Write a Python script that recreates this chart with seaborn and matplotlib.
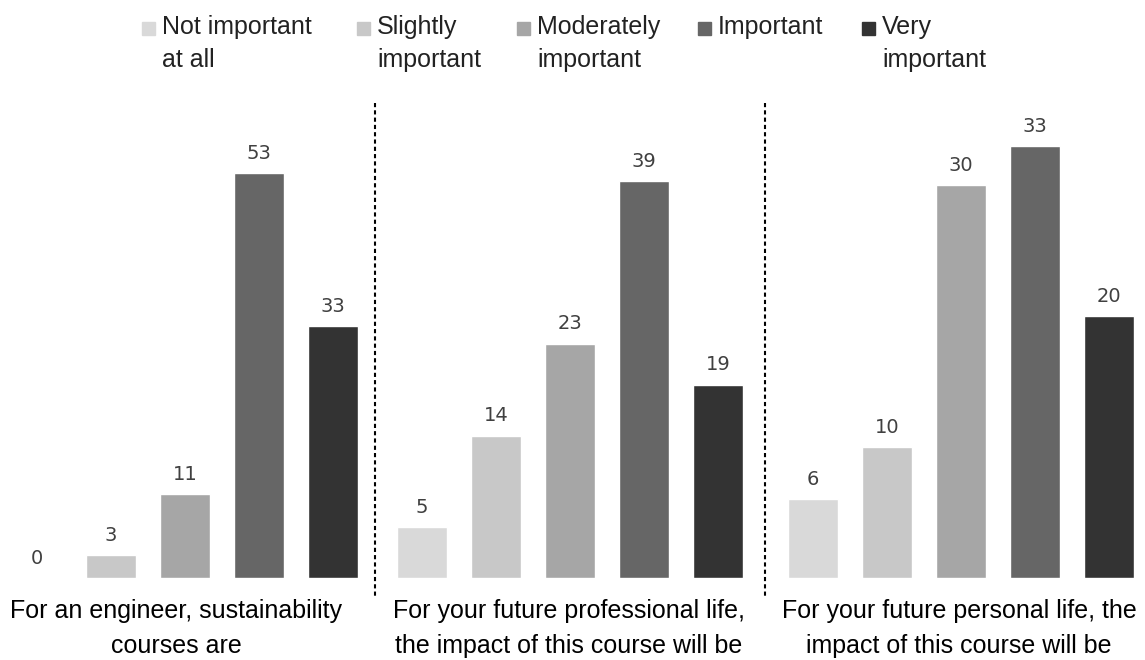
import matplotlib
matplotlib.use('Agg')
import matplotlib.pyplot as plt
from matplotlib.patches import Rectangle
from matplotlib.lines import Line2D
import seaborn as sns
import pandas as pd

# Answer categories (x) and the counts for each question
levels = ['Not important at all', 'Slightly important', 'Moderately important',
          'Important', 'Very important']
legend_labels = ['Not important\nat all', 'Slightly\nimportant', 'Moderately\nimportant',
                 'Important', 'Very\nimportant']
engineer = [0, 3, 11, 53, 33]
professional = [5, 14, 23, 39, 19]
personal = [6, 10, 30, 33, 20]
questions = ['For an engineer, sustainability\ncourses are',
             'For your future professional life,\nthe impact of this course will be',
             'For your future personal life, the\nimpact of this course will be']
y_max = [60, 45, 35]

colors = ['#d9d9d9', '#c8c8c8', '#a6a6a6', '#666666', '#333333']

sns.set_theme(style='white')
plt.rcParams['font.family'] = ['Liberation Sans', 'DejaVu Sans']

W, H = 1145, 660
fig = plt.figure(figsize=(W / 100, H / 100), dpi=100)

panel_left = [0, 385, 776]
label_x = [0.477, 0.497, 0.495]
panel_w = 370
bottom, top = 578, 120

for i, vals in enumerate([engineer, professional, personal]):
    ax = fig.add_axes([panel_left[i] / W, 1 - bottom / H, panel_w / W, (bottom - top) / H])
    df = pd.DataFrame({'level': levels, 'count': vals})
    sns.barplot(data=df, x='level', y='count', hue='level', order=levels,
                hue_order=levels, palette=colors, saturation=1, width=0.68,
                legend=False, ax=ax)
    for cont in ax.containers:
        ax.bar_label(cont, padding=7.5, fontsize=14, color='#404040',
                     family='DejaVu Sans')
    ax.set_ylim(0, y_max[i])
    ax.set_xlim(-0.5, 4.5)
    ax.set_yticks([])
    ax.set_xticks([])
    ax.set_ylabel('')
    ax.set_xlabel(questions[i], fontsize=18, color='black', labelpad=19,
                  linespacing=1.58)
    ax.xaxis.set_label_coords(label_x[i], -0.045)
    ax.xaxis.label.set_va('top')
    sns.despine(ax=ax, left=True, bottom=True)

# dotted separators between the panels
for xs in [375, 765]:
    fig.add_artist(Line2D([xs / W, xs / W], [1 - 103 / H, 1 - 598 / H],
                          color='black', lw=1.5, linestyle=(0, (2, 1.5))))

# legend along the top
legend_x = [142, 357, 517, 698, 862]
for x, lab, c in zip(legend_x, legend_labels, colors):
    fig.add_artist(Rectangle((x / W, 1 - 35 / H), 13 / W, 13 / H,
                             transform=fig.transFigure, color=c))
    fig.text((x + 20) / W, 1 - 15 / H, lab, fontsize=18, va='top', ha='left',
             color='#222222', linespacing=1.49)

fig.savefig('out.png', dpi=100)
